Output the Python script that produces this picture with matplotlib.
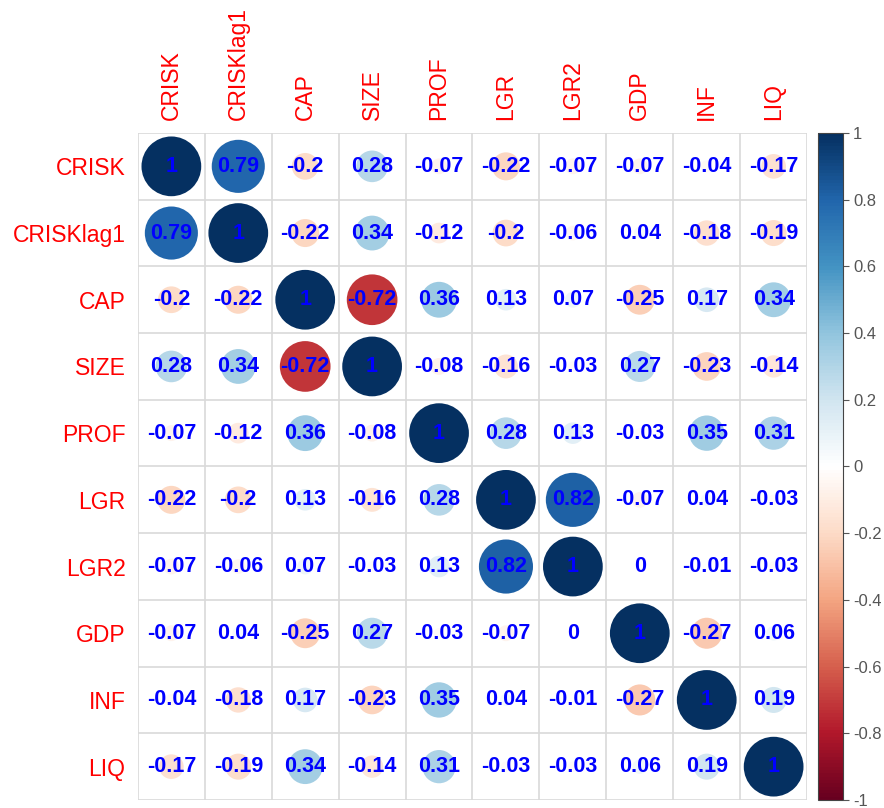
import numpy as np
import matplotlib
matplotlib.use("Agg")
import matplotlib.pyplot as plt
from matplotlib.colors import LinearSegmentedColormap, Normalize

plt.rcParams['font.family'] = ['Liberation Sans', 'DejaVu Sans']

# variabelen
names = ["CRISK", "CRISKlag1", "CAP", "SIZE", "PROF", "LGR", "LGR2", "GDP", "INF", "LIQ"]

crisk     = [1, 0.79, -0.2, 0.28, -0.07, -0.22, -0.07, -0.07, -0.04, -0.17]
crisklag1 = [0.79, 1, -0.22, 0.34, -0.12, -0.2, -0.06, 0.04, -0.18, -0.19]
cap       = [-0.2, -0.22, 1, -0.72, 0.36, 0.13, 0.07, -0.25, 0.17, 0.34]
size      = [0.28, 0.34, -0.72, 1, -0.08, -0.16, -0.03, 0.27, -0.23, -0.14]
prof      = [-0.07, -0.12, 0.36, -0.08, 1, 0.28, 0.13, -0.03, 0.35, 0.31]
lgr       = [-0.22, -0.2, 0.13, -0.16, 0.28, 1, 0.82, -0.07, 0.04, -0.03]
lgr2      = [-0.07, -0.06, 0.07, -0.03, 0.13, 0.82, 1, 0, -0.01, -0.03]
gdp       = [-0.07, 0.04, -0.25, 0.27, -0.03, -0.07, 0, 1, -0.27, 0.06]
inf       = [-0.04, -0.18, 0.17, -0.23, 0.35, 0.04, -0.01, -0.27, 1, 0.19]
liq       = [-0.17, -0.19, 0.34, -0.14, 0.31, -0.03, -0.03, 0.06, 0.19, 1]

cb_ticks = [-1, -0.8, -0.6, -0.4, -0.2, 0, 0.2, 0.4, 0.6, 0.8, 1]

corr = np.array([crisk, crisklag1, cap, size, prof, lgr, lgr2, gdp, inf, liq])
n = len(names)

# RdBu zoals corrplot
cols = ["#67001F", "#B2182B", "#D6604D", "#F4A582", "#FDDBC7", "#FFFFFF",
        "#D1E5F0", "#92C5DE", "#4393C3", "#2166AC", "#053061"]
cmap = LinearSegmentedColormap.from_list("rdbu", cols, N=200)
norm = Normalize(-1, 1)

fig = plt.figure(figsize=(8.84, 8.08), dpi=100)
ax = fig.add_axes([0.156, 0.0099, 0.757, 0.8255])

# grid
for k in range(n + 1):
    ax.axhline(k - 0.5, color="#d9d9d9", lw=1.2, zorder=1)
    ax.axvline(k - 0.5, color="#d9d9d9", lw=1.2, zorder=1)

yy, xx = np.mgrid[0:n, 0:n]
vals = corr.ravel()
ax.scatter(xx.ravel(), yy.ravel(), s=1850 * np.abs(vals), c=vals, cmap=cmap, norm=norm,
           edgecolors="none", zorder=2)

for i in range(n):
    for j in range(n):
        ax.text(j, i, "%g" % corr[i, j], ha="center", va="center", color="blue",
                fontsize=15.5, fontweight="bold", zorder=3)

ax.set_xlim(-0.5, n - 0.5)
ax.set_ylim(n - 0.5, -0.5)
for s in ax.spines.values():
    s.set_visible(False)
ax.set_xticks(range(n))
ax.set_yticks(range(n))
ax.set_xticklabels(names, rotation=90, color="red", fontsize=16.5)
ax.set_yticklabels(names, color="red", fontsize=16.5)
ax.xaxis.tick_top()
ax.tick_params(length=0, pad=9)

# kleurenbalk
cax = fig.add_axes([0.925, 0.0099, 0.029, 0.8255])
sm = plt.cm.ScalarMappable(norm=norm, cmap=cmap)
cb = fig.colorbar(sm, cax=cax, ticks=cb_ticks)
cb.ax.set_yticklabels(["%g" % t for t in cb_ticks])
cb.ax.tick_params(labelsize=12, labelcolor="#555555", length=4, color="#555555", pad=3)
cb.outline.set_edgecolor("#444444")
cb.outline.set_linewidth(0.8)

fig.savefig("out.png", dpi=100)
